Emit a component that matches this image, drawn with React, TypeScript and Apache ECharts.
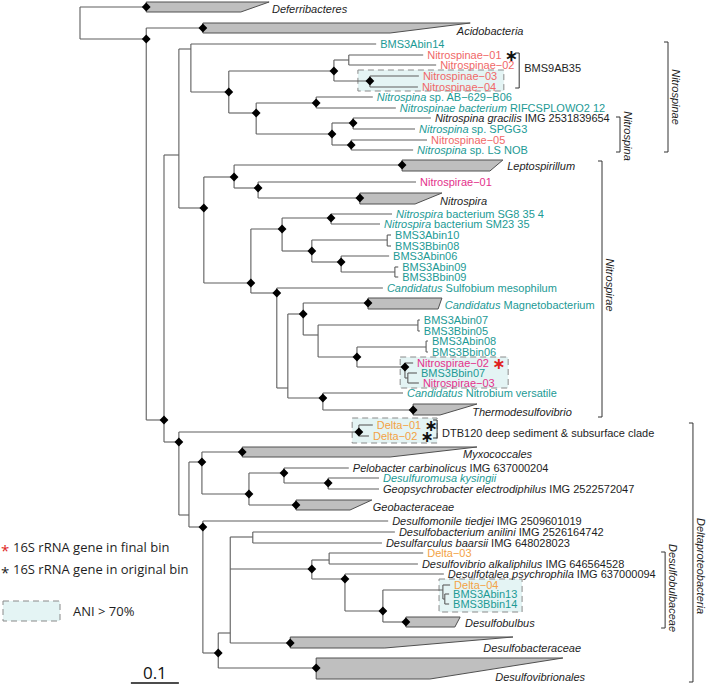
import React, { useEffect, useRef } from "react";
import * as echarts from "echarts";

// ---------------- DATA ----------------
// Tree nodes: [id, parent, depth from root (subst./site), row, bootstrap-supported (1/0)]
const NODES: [string, string, number, number, number][] = [
  ["root", "", 0, 2.3, 0],
  ["Def", "root", 0.138, 0.7, 1],
  ["nA", "root", 0.138, 3.9, 1],
  ["Aci", "nA", 0.256, 2.8, 1],
  ["nB", "nA", 0.175, 42.0, 1],
  ["nC", "nB", 0.206, 15.5, 0],
  ["nD", "nC", 0.231, 4.9, 0],
  ["BMS3Abin14", "nD", 0.617, 4.4, 0],
  ["nF", "nD", 0.31, 9.2, 1],
  ["nG", "nF", 0.529, 7.1, 1],
  ["nI", "nG", 0.56, 6.0, 0],
  ["Nsp01", "nI", 0.715, 5.5, 0],
  ["Nsp02", "nI", 0.742, 6.5, 0],
  ["nJ", "nG", 0.604, 8.1, 1],
  ["Nsp03", "nJ", 0.706, 7.6, 0],
  ["Nsp04", "nJ", 0.704, 8.7, 0],
  ["nH", "nF", 0.367, 11.3, 1],
  ["nK", "nH", 0.492, 10.3, 1],
  ["AB629", "nK", 0.61, 9.7, 0],
  ["RIFC", "nK", 0.658, 10.8, 0],
  ["nL", "nH", 0.525, 13.4, 1],
  ["nM", "nL", 0.569, 12.3, 1],
  ["gracilis", "nM", 0.731, 11.8, 0],
  ["SPGG3", "nM", 0.698, 12.9, 0],
  ["nN", "nL", 0.565, 14.5, 1],
  ["Nsp05", "nN", 0.723, 14.0, 0],
  ["LSNOB", "nN", 0.694, 15.0, 0],
  ["nE", "nC", 0.258, 20.8, 1],
  ["nO", "nE", 0.321, 17.7, 1],
  ["Lep", "nO", 0.671, 16.5, 1],
  ["nQ", "nO", 0.371, 18.8, 1],
  ["Nsr01", "nQ", 0.7, 18.2, 0],
  ["Nitrospira", "nQ", 0.583, 19.8, 1],
  ["nP", "nE", 0.356, 28.3, 1],
  ["nR", "nP", 0.421, 22.9, 1],
  ["nT", "nR", 0.523, 21.8, 1],
  ["SG8", "nT", 0.65, 21.4, 0],
  ["SM23", "nT", 0.625, 22.4, 0],
  ["nU", "nR", 0.483, 25.1, 1],
  ["nV", "nU", 0.64, 24.0, 0],
  ["A10", "nV", 0.648, 23.5, 0],
  ["B08", "nV", 0.648, 24.6, 0],
  ["nW", "nU", 0.544, 26.2, 1],
  ["A06", "nW", 0.644, 25.6, 0],
  ["nX", "nW", 0.656, 27.2, 0],
  ["A09", "nX", 0.663, 26.7, 0],
  ["B09", "nX", 0.663, 27.7, 0],
  ["nS", "nP", 0.41, 29.3, 1],
  ["Sulfobium", "nS", 0.631, 28.8, 0],
  ["nY", "nS", 0.433, 38.8, 0],
  ["nZ", "nY", 0.465, 31.4, 1],
  ["Magneto", "nZ", 0.6, 30.3, 1],
  ["nAA", "nZ", 0.496, 33.5, 0],
  ["nV2", "nAA", 0.704, 32.5, 0],
  ["A07", "nV2", 0.708, 32.0, 0],
  ["B05", "nV2", 0.708, 33.1, 0],
  ["nAB", "nAA", 0.577, 35.7, 1],
  ["nV3", "nAB", 0.721, 34.7, 0],
  ["A08", "nV3", 0.725, 34.1, 0],
  ["B06", "nV3", 0.725, 35.2, 0],
  ["nAC", "nAB", 0.677, 36.7, 1],
  ["Nsr02", "nAC", 0.694, 36.3, 0],
  ["nAD", "nAC", 0.683, 37.8, 0],
  ["B07", "nAD", 0.702, 37.3, 0],
  ["Nsr03", "nAD", 0.706, 38.3, 0],
  ["nAE", "nY", 0.506, 39.8, 1],
  ["Nitrobium", "nAE", 0.673, 39.3, 0],
  ["Thermo", "nAE", 0.694, 41.0, 1],
  ["nDA", "nB", 0.206, 44.2, 1],
  ["nDB", "nDA", 0.581, 43.2, 1],
  ["D01", "nDB", 0.61, 42.5, 0],
  ["D02", "nDB", 0.602, 43.6, 0],
  ["nDC", "nDA", 0.227, 51.5, 0],
  ["nDD", "nDC", 0.254, 46.2, 1],
  ["Myxo", "nDD", 0.338, 45.2, 1],
  ["nDF", "nDD", 0.352, 49.4, 1],
  ["nDG", "nDF", 0.425, 47.3, 1],
  ["Pelobacter", "nDG", 0.56, 46.8, 0],
  ["nDH", "nDG", 0.517, 48.3, 1],
  ["Desulfuromusa", "nDH", 0.623, 47.8, 0],
  ["Geopsychro", "nDH", 0.623, 48.9, 0],
  ["Geobac", "nDF", 0.45, 50.5, 1],
  ["nDE", "nDC", 0.256, 52.7, 1],
  ["Desulfomonile", "nDE", 0.642, 52.1, 0],
  ["nDI", "nDE", 0.288, 65.3, 1],
  ["nDJ", "nDI", 0.313, 63.3, 0],
  ["nDK", "nDJ", 0.36, 53.7, 0],
  ["anilini", "nDK", 0.656, 53.2, 0],
  ["baarsii", "nDK", 0.629, 54.3, 0],
  ["nDL", "nDJ", 0.483, 56.9, 1],
  ["nDM", "nDL", 0.519, 56.0, 0],
  ["D03", "nDM", 0.715, 55.3, 0],
  ["alkaliphilus", "nDM", 0.704, 56.4, 0],
  ["nDN", "nDL", 0.552, 57.9, 1],
  ["psychrophila", "nDN", 0.758, 57.4, 0],
  ["nDO", "nDN", 0.631, 61.1, 1],
  ["nDP", "nDO", 0.756, 59.0, 0],
  ["D04", "nDP", 0.771, 58.5, 0],
  ["nDQ", "nDP", 0.76, 59.9, 0],
  ["A13", "nDQ", 0.769, 59.4, 0],
  ["B14", "nDQ", 0.769, 60.4, 0],
  ["Dbulbus", "nDO", 0.679, 62.2, 1],
  ["Dbacteraceae", "nDJ", 0.438, 64.3, 1],
  ["Dvibrionales", "nDI", 0.492, 66.8, 1],
];

// Leaf labels: [id, text (*italic*), colour group, 16S star (0 none, 1 original bin, 2 final bin)]
const LEAVES: [string, string, string, number][] = [
  ["BMS3Abin14", "BMS3Abin14", "t", 0],
  ["Nsp01", "Nitrospinae−01", "s", 1],
  ["Nsp02", "Nitrospinae−02", "s", 0],
  ["Nsp03", "Nitrospinae−03", "s", 0],
  ["Nsp04", "Nitrospinae−04", "s", 0],
  ["AB629", "*Nitrospina* sp. AB−629−B06", "t", 0],
  ["RIFC", "*Nitrospinae bacterium* RIFCSPLOWO2 12", "t", 0],
  ["gracilis", "*Nitrospina gracilis* IMG 2531839654", "k", 0],
  ["SPGG3", "*Nitrospina* sp. SPGG3", "t", 0],
  ["Nsp05", "Nitrospinae−05", "s", 0],
  ["LSNOB", "*Nitrospina* sp. LS NOB", "t", 0],
  ["Nsr01", "Nitrospirae−01", "p", 0],
  ["SG8", "*Nitrospira* bacterium SG8 35 4", "t", 0],
  ["SM23", "*Nitrospira* bacterium SM23 35", "t", 0],
  ["A10", "BMS3Abin10", "t", 0],
  ["B08", "BMS3Bbin08", "t", 0],
  ["A06", "BMS3Abin06", "t", 0],
  ["A09", "BMS3Abin09", "t", 0],
  ["B09", "BMS3Bbin09", "t", 0],
  ["Sulfobium", "*Candidatus* Sulfobium mesophilum", "t", 0],
  ["A07", "BMS3Abin07", "t", 0],
  ["B05", "BMS3Bbin05", "t", 0],
  ["A08", "BMS3Abin08", "t", 0],
  ["B06", "BMS3Bbin06", "t", 0],
  ["Nsr02", "Nitrospirae−02", "p", 2],
  ["B07", "BMS3Bbin07", "t", 0],
  ["Nsr03", "Nitrospirae−03", "p", 0],
  ["Nitrobium", "*Candidatus* Nitrobium versatile", "t", 0],
  ["D01", "Delta−01", "o", 1],
  ["D02", "Delta−02", "o", 1],
  ["Pelobacter", "*Pelobacter carbinolicus* IMG 637000204", "k", 0],
  ["Desulfuromusa", "*Desulfuromusa kysingii*", "t", 0],
  ["Geopsychro", "*Geopsychrobacter electrodiphilus* IMG 2522572047", "k", 0],
  ["Desulfomonile", "*Desulfomonile tiedjei* IMG 2509601019", "k", 0],
  ["anilini", "*Desulfobacterium anilini* IMG 2526164742", "k", 0],
  ["baarsii", "*Desulfarculus baarsii* IMG 648028023", "k", 0],
  ["D03", "Delta−03", "o", 0],
  ["alkaliphilus", "*Desulfovibrio alkaliphilus* IMG 646564528", "k", 0],
  ["psychrophila", "*Desulfotalea psychrophila* IMG 637000094", "k", 0],
  ["D04", "Delta−04", "o", 0],
  ["A13", "BMS3Abin13", "t", 0],
  ["B14", "BMS3Bbin14", "t", 0],
];

// Collapsed clades: [id, name, colour, rowTop, rowBottom, maxDepth, minDepth, labelDepth, labelRow]
const CLADES: [string, string, string, number, number, number, number, number, number][] = [
  ["Def", "*Deferribacteres*", "k", 0.2, 1.2, 0.394, 0.335, 0.4, 0.9],
  ["Aci", "*Acidobacteria*", "k", 2.3, 3.3, 0.813, 0.646, 0.785, 3.1],
  ["Lep", "*Leptospirillum*", "k", 16.0, 17.1, 0.881, 0.854, 0.89, 16.6],
  ["Nitrospira", "*Nitrospira*", "k", 19.3, 20.4, 0.754, 0.698, 0.75, 20.1],
  ["Magneto", "*Candidatus* Magnetobacterium", "t", 29.8, 30.9, 0.754, 0.746, 0.76, 30.5],
  ["Thermo", "*Thermodesulfovibrio*", "k", 40.4, 41.5, 0.827, 0.75, 0.817, 41.2],
  ["Myxo", "*Myxococcales*", "k", 44.7, 45.7, 0.827, 0.646, 0.798, 45.4],
  ["Geobac", "*Geobacteraceae*", "k", 50.0, 51.0, 0.608, 0.5625, 0.61, 50.7],
  ["Dbulbus", "*Desulfobulbus*", "k", 61.7, 62.7, 0.792, 0.781, 0.802, 62.3],
  ["Dbacteraceae", "*Desulfobacteraceae*", "k", 63.7, 64.8, 0.902, 0.635, 0.84, 64.8],
  ["Dvibrionales", "*Desulfovibrionales*", "k", 65.8, 67.9, 1.006, 0.729, 0.865, 67.7],
];

// ANI > 70% groups: [depth0, row0, depth1, row1]
const ANI_BOXES: [number, number, number, number][] = [
  [0.579, 7.0, 0.883, 9.1],
  [0.667, 35.7, 0.892, 38.8],
  [0.567, 41.8, 0.744, 44.3],
  [0.748, 57.9, 0.921, 61.2],
];

// Brackets: [depth, rowTop, rowBottom, label, vertical label (1/0), labelRow]
const BRACKETS: [number, number, number, string, number, number][] = [
  [0.915, 5.3, 8.8, "BMS9AB35", 0, 6.8],
  [1.125, 11.7, 15.2, "Nitrospina", 1, 13.6],
  [1.225, 4.2, 15.2, "Nitrospinae", 1, 9.7],
  [1.0875, 16.1, 41.7, "Nitrospirae", 1, 28.5],
  [0.744, 42.0, 43.8, "DTB120 deep sediment & subsurface clade", 0, 43.3],
  [1.219, 55.2, 62.8, "Desulfobulbaceae", 1, 58.8],
  [1.277, 42.3, 68.2, "Deltaproteobacteria", 1, 56.6],
];

const SCALE_BAR: [number, number, number] = [0.106, 68.3, 0.1];

// ---------------- STYLE ----------------
const TREE_FONT = "'Liberation Sans', Arial, sans-serif";
const LEGEND_FONT = "'Open Sans', 'Noto Sans', sans-serif";
const COLORS: Record<string, string> = {
  k: "#1e1e1e",
  t: "#1c9a95",
  s: "#f06868",
  p: "#e3318b",
  o: "#f3a245",
};
const LINE = "#5e5e5e";

const idIndex = new Map<string, number>();
NODES.forEach((n, i) => idIndex.set(n[0], i));
const kidRows: number[][] = NODES.map(() => []);
NODES.forEach((n) => {
  if (n[1]) kidRows[idIndex.get(n[1])!].push(n[3]);
});
const leafMap = new Map(LEAVES.map((l) => [l[0], l]));
const cladeMap = new Map(CLADES.map((c) => [c[0], c]));

function richText(s: string): string {
  let out = "";
  s.split("*").forEach((p, k) => {
    if (p) out += `{${k % 2 ? "i" : "n"}|${p}}`;
  });
  return out;
}

function richStyles(color: string) {
  return {
    n: { fontFamily: TREE_FONT, fontSize: 11, lineHeight: 11, fill: color },
    i: { fontFamily: TREE_FONT, fontSize: 11, lineHeight: 11, fontStyle: "italic", fill: color },
    bs: { fontFamily: "'DejaVu Sans', sans-serif", fontSize: 16, lineHeight: 11, fontWeight: "bold", fill: "#111" },
    rs: { fontFamily: "'DejaVu Sans', sans-serif", fontSize: 16, lineHeight: 11, fontWeight: "bold", fill: "#e0231c" },
  };
}

function labelEl(x: number, y: number, text: string, color: string, star: number) {
  let t = richText(text);
  if (star === 1) t += "{n| }{bs|∗}";
  if (star === 2) t += "{n| }{rs|∗}";
  return {
    type: "text",
    x,
    y,
    z2: 5,
    style: {
      text: t,
      rich: richStyles(color),
      fill: color,
      fontFamily: TREE_FONT,
      fontSize: 11,
      lineHeight: 11,
      align: "left",
      verticalAlign: "middle",
    },
  };
}

function seg(x1: number, y1: number, x2: number, y2: number, stroke = LINE, w = 1.1) {
  return {
    type: "line",
    z2: 0,
    shape: { x1, y1, x2, y2 },
    style: { stroke, lineWidth: w },
  };
}

const renderTree = (params: any, api: any) => {
  const i = params.dataIndex;
  const node = NODES[i];
  const d = api.value(0);
  const r = api.value(1);
  const p = api.coord([d, r]);
  const els: any[] = [];
  if (node[1]) {
    const par = NODES[idIndex.get(node[1])!];
    const q = api.coord([par[2], r]);
    els.push(seg(q[0], p[1], p[0], p[1]));
  }
  const kr = kidRows[i];
  if (kr.length) {
    const a = api.coord([d, Math.min(...kr)]);
    const b = api.coord([d, Math.max(...kr)]);
    els.push(seg(p[0], a[1], p[0], b[1]));
  }
  const clade = cladeMap.get(node[0]);
  if (clade) {
    const tl = api.coord([d, clade[3]]);
    const tr = api.coord([clade[5], clade[3]]);
    const br = api.coord([clade[6], clade[4]]);
    const bl = api.coord([d, clade[4]]);
    els.push({
      type: "polygon",
      z2: 1,
      shape: { points: [tl, tr, br, bl] },
      style: { fill: "#bfbfbf", stroke: "#505050", lineWidth: 1 },
    });
    const lp = api.coord([clade[7], clade[8]]);
    els.push(labelEl(lp[0], lp[1], clade[1], COLORS[clade[2]], 0));
  }
  const leaf = leafMap.get(node[0]);
  if (leaf) {
    els.push(labelEl(p[0] + 4, p[1], leaf[1], COLORS[leaf[2]], leaf[3]));
  }
  if (node[4]) {
    const h = 4.4;
    els.push({
      type: "polygon",
      z2: 10,
      shape: { points: [[p[0], p[1] - h], [p[0] + h, p[1]], [p[0], p[1] + h], [p[0] - h, p[1]]] },
      style: { fill: "#000" },
    });
  }
  return { type: "group", children: els };
};

const renderBoxes = (params: any, api: any) => {
  const a = api.coord([api.value(0), api.value(1)]);
  const b = api.coord([api.value(2), api.value(3)]);
  return {
    type: "rect",
    shape: { x: a[0], y: a[1], width: b[0] - a[0], height: b[1] - a[1] },
    style: { fill: "#e4f4f4", stroke: "#8a8a8a", lineWidth: 1, lineDash: [6, 4] },
  };
};

const renderBrackets = (params: any, api: any) => {
  const br = BRACKETS[params.dataIndex];
  const a = api.coord([api.value(0), api.value(1)]);
  const b = api.coord([api.value(0), api.value(2)]);
  const els: any[] = [
    {
      type: "polyline",
      shape: { points: [[a[0] - 4, a[1]], [a[0], a[1]], [b[0], b[1]], [b[0] - 4, b[1]]] },
      style: { stroke: "#333", lineWidth: 1, fill: null },
    },
  ];
  const lp = api.coord([br[0], br[5]]);
  if (br[4]) {
    els.push({
      type: "text",
      x: lp[0] + 8,
      y: lp[1],
      rotation: -Math.PI / 2,
      style: {
        text: br[3],
        fill: "#1e1e1e",
        fontFamily: TREE_FONT,
        fontSize: 11,
        fontStyle: "italic",
        align: "center",
        verticalAlign: "middle",
      },
    });
  } else {
    els.push({
      type: "text",
      x: lp[0] + 5,
      y: lp[1],
      style: {
        text: br[3],
        fill: "#1e1e1e",
        fontFamily: TREE_FONT,
        fontSize: 11,
        align: "left",
        verticalAlign: "middle",
      },
    });
  }
  return { type: "group", children: els };
};

const renderScale = (params: any, api: any) => {
  const a = api.coord([api.value(0), api.value(1)]);
  const b = api.coord([api.value(0) + api.value(2), api.value(1)]);
  return {
    type: "group",
    children: [
      seg(a[0], a[1], b[0], b[1], "#111", 1.4),
      {
        type: "text",
        x: (a[0] + b[0]) / 2,
        y: a[1] - 11,
        style: {
          text: String(api.value(2)),
          fill: "#111",
          fontFamily: LEGEND_FONT,
          fontSize: 17,
          align: "center",
          verticalAlign: "middle",
        },
      },
    ],
  };
};

function legendText(x: number, y: number, text: string, fill = "#1e1e1e", size = 13) {
  return {
    type: "text",
    x,
    y,
    style: { text, fill, fontFamily: LEGEND_FONT, fontSize: size, align: "left", verticalAlign: "middle" },
  };
}

export default function App() {
  const ref = useRef<HTMLDivElement>(null);
  useEffect(() => {
    document.body.style.margin = "0";
    const chart = echarts.init(ref.current!, null, { renderer: "svg" });
    const option: any = {
      animation: false,
      backgroundColor: "#ffffff",
      grid: { left: 80, top: 0, width: 480, height: 685 },
      xAxis: { type: "value", min: 0, max: 1, show: false },
      yAxis: { type: "value", min: 0, max: 68.5, inverse: true, show: false },
      graphic: [
        legendText(1, 550, "*", "#e0231c", 15),
        legendText(13, 547, "16S rRNA gene in final bin"),
        legendText(1, 572, "*", "#1e1e1e", 15),
        legendText(13, 569, "16S rRNA gene in original bin"),
        {
          type: "rect",
          shape: { x: 3, y: 601, width: 57, height: 20 },
          style: { fill: "#e4f4f4", stroke: "#8a8a8a", lineWidth: 1, lineDash: [6, 4] },
        },
        legendText(73, 611, "ANI > 70%"),
      ],
      series: [
        {
          type: "custom",
          name: "ANI",
          z: 1,
          clip: false,
          coordinateSystem: "cartesian2d",
          encode: { x: [0, 2], y: [1, 3] },
          data: ANI_BOXES,
          renderItem: renderBoxes,
        },
        {
          type: "custom",
          name: "tree",
          z: 2,
          clip: false,
          coordinateSystem: "cartesian2d",
          encode: { x: 0, y: 1 },
          data: NODES.map((n) => [n[2], n[3]]),
          renderItem: renderTree,
        },
        {
          type: "custom",
          name: "brackets",
          z: 2,
          clip: false,
          coordinateSystem: "cartesian2d",
          encode: { x: 0, y: [1, 2] },
          data: BRACKETS.map((b) => [b[0], b[1], b[2]]),
          renderItem: renderBrackets,
        },
        {
          type: "custom",
          name: "scale",
          z: 2,
          clip: false,
          coordinateSystem: "cartesian2d",
          encode: { x: 0, y: 1 },
          data: [SCALE_BAR],
          renderItem: renderScale,
        },
      ],
    };
    chart.setOption(option);
    return () => chart.dispose();
  }, []);
  return (
    <div
      ref={ref}
      style={{ position: "fixed", left: 0, top: 0, width: 709, height: 685, background: "#fff" }}
    />
  );
}
